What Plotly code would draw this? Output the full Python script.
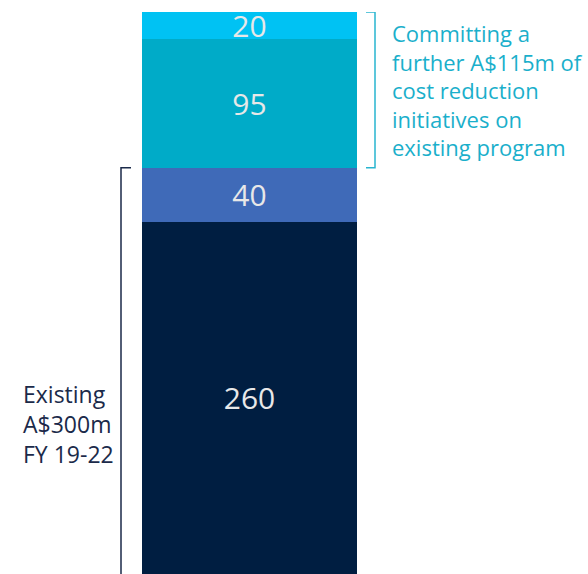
import plotly.graph_objects as go

# Data
segments = ["Existing base", "Existing extra", "Further cost reduction", "Further initiatives"]
values = [260, 40, 95, 20]
colors = ["#001E41", "#3F6AB8", "#00ABC8", "#00C2F3"]
left_label = "Existing<br>A$300m<br>FY 19-22"
right_label = "Committing a<br>further A$115m of<br>cost reduction<br>initiatives on<br>existing program"

existing_total = values[0] + values[1]
total = sum(values)

W, H = 588, 574
bar_center_px, bar_width_px = 249.5, 215
x_min = -bar_center_px / bar_width_px
x_max = (W - bar_center_px) / bar_width_px


def px_to_x(p):
    return (p - bar_center_px) / bar_width_px


fig = go.Figure()
for name, v, c in zip(segments, values, colors):
    fig.add_trace(go.Bar(
        x=[0], y=[v], name=name, width=1,
        marker=dict(color=c, line=dict(width=0)),
        text=[str(v)], textposition="inside", insidetextanchor="middle",
        textangle=0,
        textfont=dict(family="Open Sans", size=30, color="#E8E8E8"),
        hoverinfo="skip",
    ))

# Left bracket (existing program)
xl, xlt = px_to_x(121), px_to_x(131)
fig.add_shape(type="path",
              path=f"M {xlt} {existing_total} L {xl} {existing_total} L {xl} 0",
              line=dict(color="#1B2A4A", width=1.5), xref="x", yref="y")
# Right bracket (further initiatives)
xr, xrt = px_to_x(375), px_to_x(366)
fig.add_shape(type="path",
              path=f"M {xrt} {total} L {xr} {total} L {xr} {existing_total} L {xrt} {existing_total}",
              line=dict(color="#29B5D0", width=1.5), xref="x", yref="y")

fig.add_annotation(x=px_to_x(390), y=(existing_total + total) / 2, xref="x", yref="y",
                   text=right_label, showarrow=False, xanchor="left", yanchor="middle",
                   align="left", font=dict(family="Open Sans", size=22, color="#1AAFCB"))
fig.add_annotation(x=px_to_x(21), y=existing_total * 0.37, xref="x", yref="y",
                   text=left_label, showarrow=False, xanchor="left", yanchor="middle",
                   align="left", font=dict(family="Open Sans", size=23, color="#1B2A4A"))

fig.update_layout(
    barmode="stack", width=W, height=H,
    margin=dict(l=0, r=0, t=12, b=0),
    paper_bgcolor="white", plot_bgcolor="white",
    showlegend=False,
    uniformtext=dict(minsize=30, mode="show"),
    xaxis=dict(range=[x_min, x_max], visible=False, fixedrange=True),
    yaxis=dict(range=[0, total], visible=False, fixedrange=True),
)

fig.write_html("out.html", config={"displayModeBar": False},
               post_script="document.body.style.margin='0';document.body.style.overflow='hidden';")
